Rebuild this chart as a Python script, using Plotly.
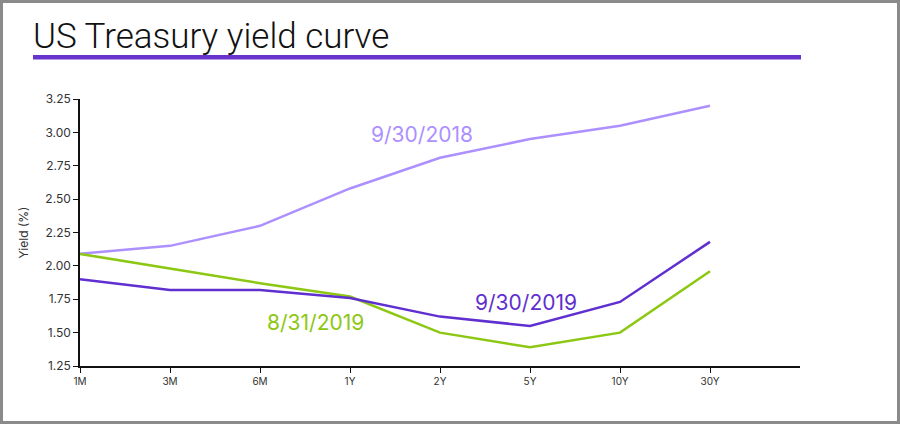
import plotly.graph_objects as go

# Data
maturities = ['1M', '3M', '6M', '1Y', '2Y', '5Y', '10Y', '30Y']
yield_2018_09_30 = [2.09, 2.15, 2.30, 2.58, 2.81, 2.95, 3.05, 3.20]
yield_2019_09_30 = [1.90, 1.82, 1.82, 1.76, 1.62, 1.55, 1.73, 2.18]
yield_2019_08_31 = [2.09, 1.98, 1.87, 1.77, 1.50, 1.39, 1.50, 1.96]
y_ticks = [1.25, 1.50, 1.75, 2.00, 2.25, 2.50, 2.75, 3.00, 3.25]

colors = {
    '9/30/2018': '#AD90FF',
    '9/30/2019': '#5F2FD0',
    '8/31/2019': '#8CC813',
}

W, H = 900, 424
L, R, T, B = 80, 100, 99, 58
PW, PH = W - L - R, H - T - B


def px_x(x):
    return (x - L) / PW


def px_y(y):
    return 1 - (y - T) / PH


fig = go.Figure()

series = [
    ('9/30/2018', yield_2018_09_30),
    ('8/31/2019', yield_2019_08_31),
    ('9/30/2019', yield_2019_09_30),
]
for name, vals in series:
    fig.add_trace(go.Scatter(
        x=list(range(len(maturities))),
        y=vals,
        mode='lines',
        name=name,
        line=dict(color=colors[name], width=2.5),
        hovertemplate='%{y:.2f}%<extra>' + name + '</extra>'
    ))

# Series labels placed next to the lines
labels = [
    ('9/30/2018', 3.80, 2.985),
    ('9/30/2019', 4.96, 1.727),
    ('8/31/2019', 2.62, 1.577),
]
for text, ax, ay in labels:
    fig.add_annotation(x=ax, y=ay, xref='x', yref='y', text=text, showarrow=False,
                       font=dict(family='Inter, Roboto, sans-serif', size=21, color=colors[text]))

# Title and its underline
fig.add_annotation(x=px_x(31), y=px_y(36), xref='paper', yref='paper', text='US Treasury yield curve',
                   showarrow=False, xanchor='left', yanchor='middle',
                   font=dict(family='Roboto Light, Roboto, sans-serif', size=35, color='#111111', weight=300))
fig.add_shape(type='rect', xref='paper', yref='paper',
              x0=px_x(33), x1=px_x(801), y0=px_y(55), y1=px_y(59.5),
              fillcolor='#6633CC', line=dict(width=0))

# Gray frame round the whole picture
fig.add_shape(type='rect', xref='paper', yref='paper',
              x0=px_x(1.5), x1=px_x(898.5), y0=px_y(422.5), y1=px_y(1.5),
              line=dict(color='#8A8A8A', width=3), fillcolor='rgba(0,0,0,0)')

fig.update_xaxes(
    range=[0, 8],
    tickmode='array',
    tickvals=list(range(len(maturities))),
    ticktext=maturities,
    showgrid=False, zeroline=False,
    showline=True, linecolor='#111111', linewidth=1.5,
    ticks='outside', ticklen=5, tickcolor='#111111',
    tickfont=dict(family='Inter, Roboto, sans-serif', size=10, color='#333333'),
)
fig.update_yaxes(
    range=[1.25, 3.25],
    tickmode='array',
    tickvals=y_ticks,
    ticktext=[f'{v:.2f}' for v in y_ticks],
    showgrid=False, zeroline=False,
    showline=True, linecolor='#111111', linewidth=1.5,
    ticks='outside', ticklen=5, tickcolor='#111111',
    tickfont=dict(family='Inter, Roboto, sans-serif', size=12, color='#333333'),
    title=dict(text='Yield (%)', standoff=14,
               font=dict(family='Inter, Roboto, sans-serif', size=12, color='#333333')),
)

fig.update_layout(
    width=W, height=H,
    margin=dict(l=L, r=R, t=T, b=B),
    paper_bgcolor='white',
    plot_bgcolor='white',
    showlegend=False,
)

fig.write_html('out.html', config={'displayModeBar': False},
               post_script="document.body.style.margin='0';")
